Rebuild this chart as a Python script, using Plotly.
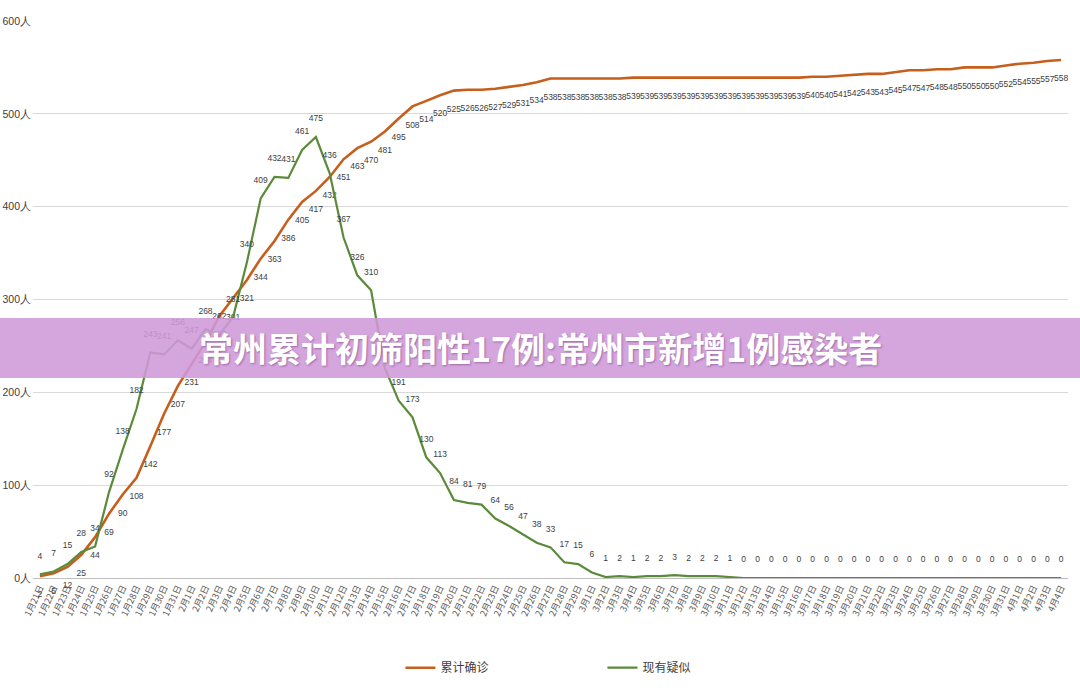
import plotly.graph_objects as go

dates = ["1月21日","1月22日","1月23日","1月24日","1月25日","1月26日","1月27日","1月28日","1月29日","1月30日","1月31日",
         "2月1日","2月2日","2月3日","2月4日","2月5日","2月6日","2月7日","2月8日","2月9日","2月10日",
         "2月11日","2月12日","2月13日","2月14日","2月15日","2月16日","2月17日","2月18日","2月19日","2月20日",
         "2月21日","2月22日","2月23日","2月24日","2月25日","2月26日","2月27日","2月28日","2月29日",
         "3月1日","3月2日","3月3日","3月4日","3月5日","3月6日","3月7日","3月8日","3月9日","3月10日",
         "3月11日","3月12日","3月13日","3月14日","3月15日","3月16日","3月17日","3月18日","3月19日","3月20日",
         "3月21日","3月22日","3月23日","3月24日","3月25日","3月26日","3月27日","3月28日","3月29日","3月30日",
         "3月31日","4月1日","4月2日","4月3日","4月4日"]

confirmed = [2, 5, 12, 25, 44, 69, 90, 108, 142, 177, 207,
             231, 254, 282, 301, 321, 344, 363, 386, 405, 417,
             432, 451, 463, 470, 481, 495, 508, 514, 520, 525,
             526, 526, 527, 529, 531, 534, 538, 538, 538,
             538, 538, 538, 539, 539, 539, 539, 539, 539, 539,
             539, 539, 539, 539, 539, 539, 540, 540, 541, 542,
             543, 543, 545, 547, 547, 548, 548, 550, 550, 550,
             552, 554, 555, 557, 558]

suspected = [4, 7, 15, 28, 34, 92, 138, 182, 243, 241, 256,
             247, 268, 262, 281, 340, 409, 432, 431, 461, 475,
             436, 367, 326, 310, 226, 191, 173, 130, 113, 84,
             81, 79, 64, 56, 47, 38, 33, 17, 15,
             6, 1, 2, 1, 2, 2, 3, 2, 2, 2,
             1, 0, 0, 0, 0, 0, 0, 0, 0, 0,
             0, 0, 0, 0, 0, 0, 0, 0, 0, 0,
             0, 0, 0, 0, 0]

y_ticks = [0, 100, 200, 300, 400, 500, 600]
series_names = ["累计确诊", "现有疑似"]
banner_text = "常州累计初筛阳性17例:常州市新增1例感染者"

NUM_FONT = "Liberation Sans Narrow, Liberation Sans, Arial, sans-serif"
ORANGE = "#C65E1C"
GREEN = "#5A8A3A"

fig = go.Figure()
fig.add_trace(go.Scatter(
    x=dates, y=confirmed, name=series_names[0],
    mode="lines+markers+text",
    line=dict(color=ORANGE, width=2.6),
    marker=dict(size=22, color="rgba(0,0,0,0)"),
    text=[str(v) for v in confirmed], textposition="bottom center",
    textfont=dict(family=NUM_FONT, size=8.5, color="#404040"),
    cliponaxis=False,
))
fig.add_trace(go.Scatter(
    x=dates, y=suspected, name=series_names[1],
    mode="lines+markers+text",
    line=dict(color=GREEN, width=2.2),
    marker=dict(size=20, color="rgba(0,0,0,0)"),
    text=[str(v) for v in suspected], textposition="top center",
    textfont=dict(family=NUM_FONT, size=8.5, color="#404040"),
    cliponaxis=False,
))

fig.update_layout(
    width=1080, height=697,
    margin=dict(l=33, r=12, t=21, b=119),
    paper_bgcolor="white", plot_bgcolor="white",
    font=dict(family=NUM_FONT, color="#404040"),
    showlegend=True,
    legend=dict(orientation="h", x=0.355, xanchor="left", y=-0.161, yanchor="middle",
                font=dict(family="Noto Sans CJK SC", size=12, color="#404040"),
                entrywidth=157, entrywidthmode="pixels", itemwidth=30,
                bgcolor="rgba(0,0,0,0)"),
    xaxis=dict(type="category", range=[-0.5, len(dates) - 0.5], tickangle=-65,
               tickfont=dict(family="Noto Sans CJK SC", size=9, color="#595959"),
               showgrid=False, showline=True, linecolor="#BFBFBF", linewidth=1,
               ticks="", zeroline=False, automargin=False),
    yaxis=dict(range=[0, 600], tickvals=y_ticks, ticktext=[f"{v}人" for v in y_ticks],
               tickfont=dict(family=NUM_FONT, size=10.5, color="#404040"),
               showgrid=True, gridcolor="#D9D9D9", gridwidth=1, zeroline=False,
               showline=False, ticks="", ticklabelstandoff=1, automargin=False),
)

fig.add_shape(type="rect", xref="paper", yref="paper",
              x0=-0.04, x1=1.02, y0=0.3591, y1=0.4667,
              fillcolor="rgba(207,152,217,0.88)", line=dict(width=0), layer="above")
fig.add_annotation(xref="paper", yref="paper", x=(540 - 33) / 1035, y=0.413,
                   text=f"<b>{banner_text}</b>", showarrow=False,
                   font=dict(family="Noto Sans CJK SC", size=34, color="white",
                             shadow="1px 1px 2px rgba(90,40,100,0.45)"))

fig.write_html("out.html")
